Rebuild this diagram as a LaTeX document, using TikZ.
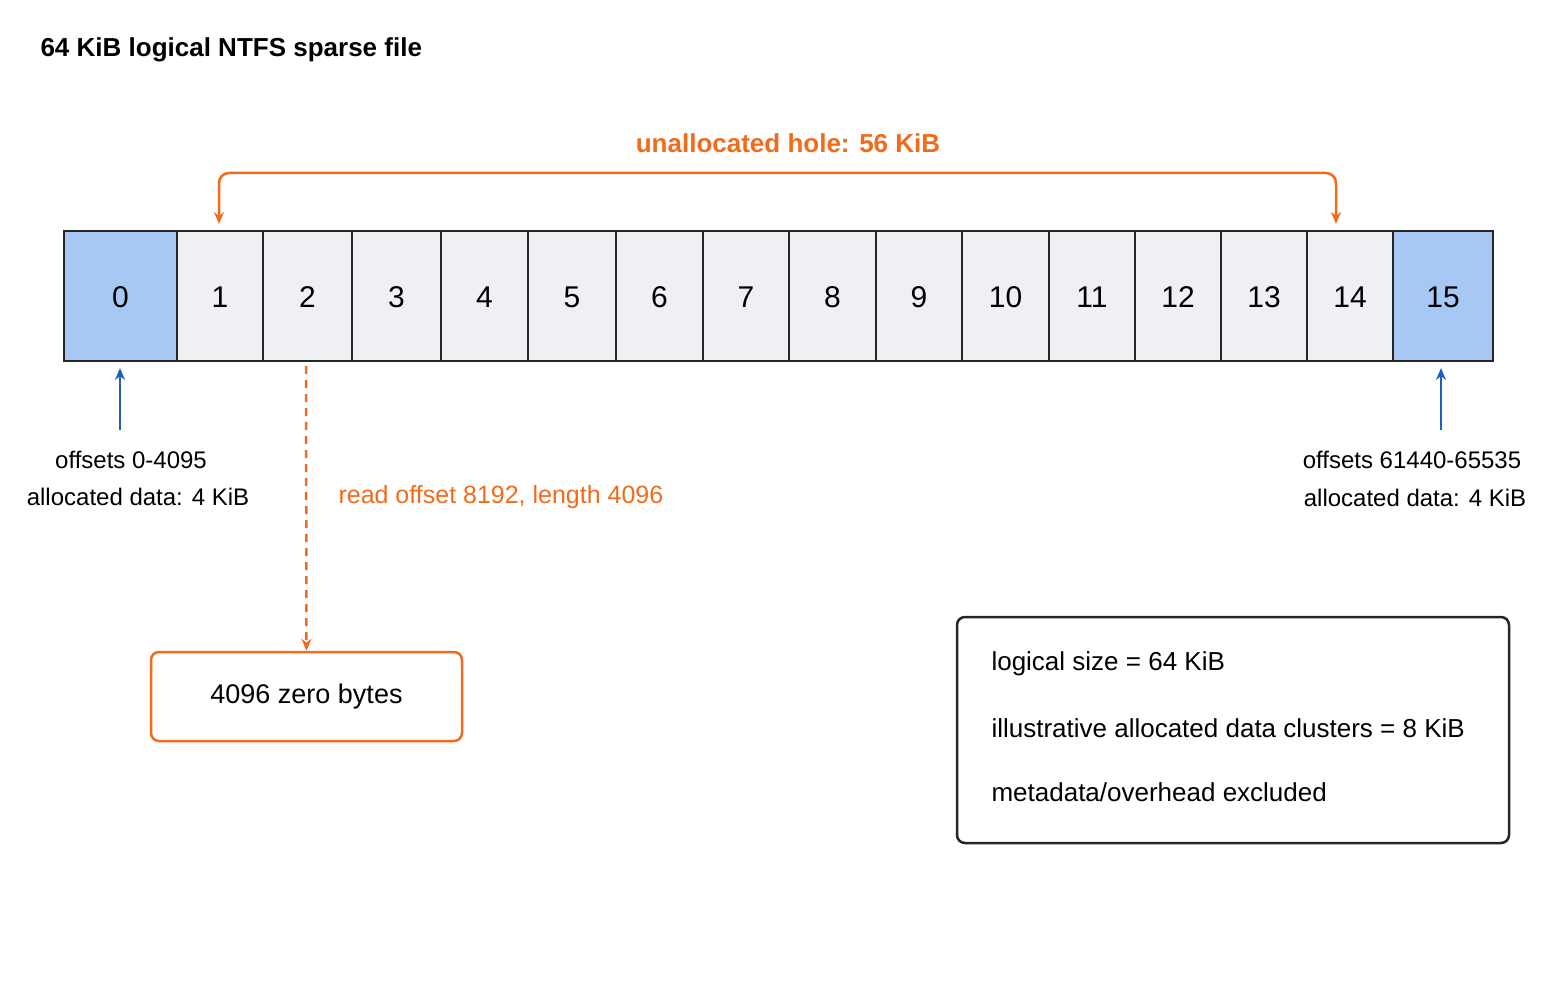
\documentclass[tikz,border=0pt]{standalone}
\usepackage{fontspec}
\setmainfont{Liberation Sans}
\usetikzlibrary{arrows.meta}
\definecolor{org}{HTML}{F26A1B}
\definecolor{blu}{HTML}{1F5FBF}
\definecolor{cellg}{HTML}{EEF0F4}
\definecolor{cellb}{HTML}{A7C8F5}
\begin{document}
\begin{tikzpicture}[x=1pt,y=-1pt,
  >={Stealth[length=12pt,width=10pt]},
  lbl/.style={font=\fontsize{24}{28}\selectfont},
  cell/.style={draw=black!85,line width=2pt,fill=cellg},
  num/.style={font=\fontsize{30}{34}\selectfont},
  oarr/.style={draw=org,line width=2.5pt},
  barr/.style={draw=blu,line width=2.5pt,->}]
\useasboundingbox (0,0) rectangle (1564,1006);
\node[anchor=west,font=\bfseries\fontsize{26}{30}\selectfont] (title) at (37,50) {64 KiB logical NTFS sparse file};
\def\xs{{64,177,263,352,441,528,616,703,789,876,962,1049,1135,1221,1307,1393,1493}}
\foreach \i in {0,...,15}{
  \pgfmathsetmacro\xa{\xs[\i]}\pgfmathsetmacro\xb{\xs[\i+1]}
  \ifnum\i=0 \def\fc{cellb}\else\ifnum\i=15 \def\fc{cellb}\else\def\fc{cellg}\fi\fi
  \path[cell,fill=\fc] (\xa,231) rectangle (\xb,361);
  \node[num] (c\i) at ({(\xa+\xb)/2},297) {\i};
}
\coordinate (h1) at (219,224); \coordinate (h2) at (1336,224);
\draw[oarr,<->,rounded corners=10pt] (h1) -- (219,173) -- (1336,173) -- (h2);
\node[text=org,font=\bfseries\fontsize{26}{30}\selectfont] (hole) at (788,143) {unallocated hole: 56 KiB};
\coordinate (b1) at (120,430); \coordinate (b2) at (1441,430);
\draw[barr] (b1) -- (120,368);
\draw[barr] (b2) -- (1441,368);
\node[lbl] (l1) at (131,460) {offsets 0-4095};
\node[lbl] (l2) at (138,497) {allocated data: 4 KiB};
\node[lbl] (r1) at (1412,460) {offsets 61440-65535};
\node[lbl] (r2) at (1415,498) {allocated data: 4 KiB};
\node[draw=org,line width=2.5pt,rounded corners=8pt,minimum width=311pt,minimum height=89pt,font=\fontsize{27}{32}\selectfont] (zero) at (306.5,696.5) {4096 zero bytes};
\draw[oarr,->,dash pattern=on 8pt off 6pt] (306,366) -- (zero.north);
\node[text=org,anchor=west,font=\fontsize{25}{30}\selectfont] (read) at (335,497) {read offset 8192, length 4096};
\node[draw=black!85,line width=2.5pt,rounded corners=8pt,minimum width=552pt,minimum height=226pt] (leg) at (1233,730) {};
\node[anchor=west,font=\fontsize{26}{32}\selectfont] (t1) at (988,664) {logical size = 64 KiB};
\node[anchor=west,font=\fontsize{26}{32}\selectfont] (t2) at (988,728) {illustrative allocated data clusters = 8 KiB};
\node[anchor=west,font=\fontsize{26}{32}\selectfont] (t3) at (988,792) {metadata/overhead excluded};
\end{tikzpicture}
\end{document}
